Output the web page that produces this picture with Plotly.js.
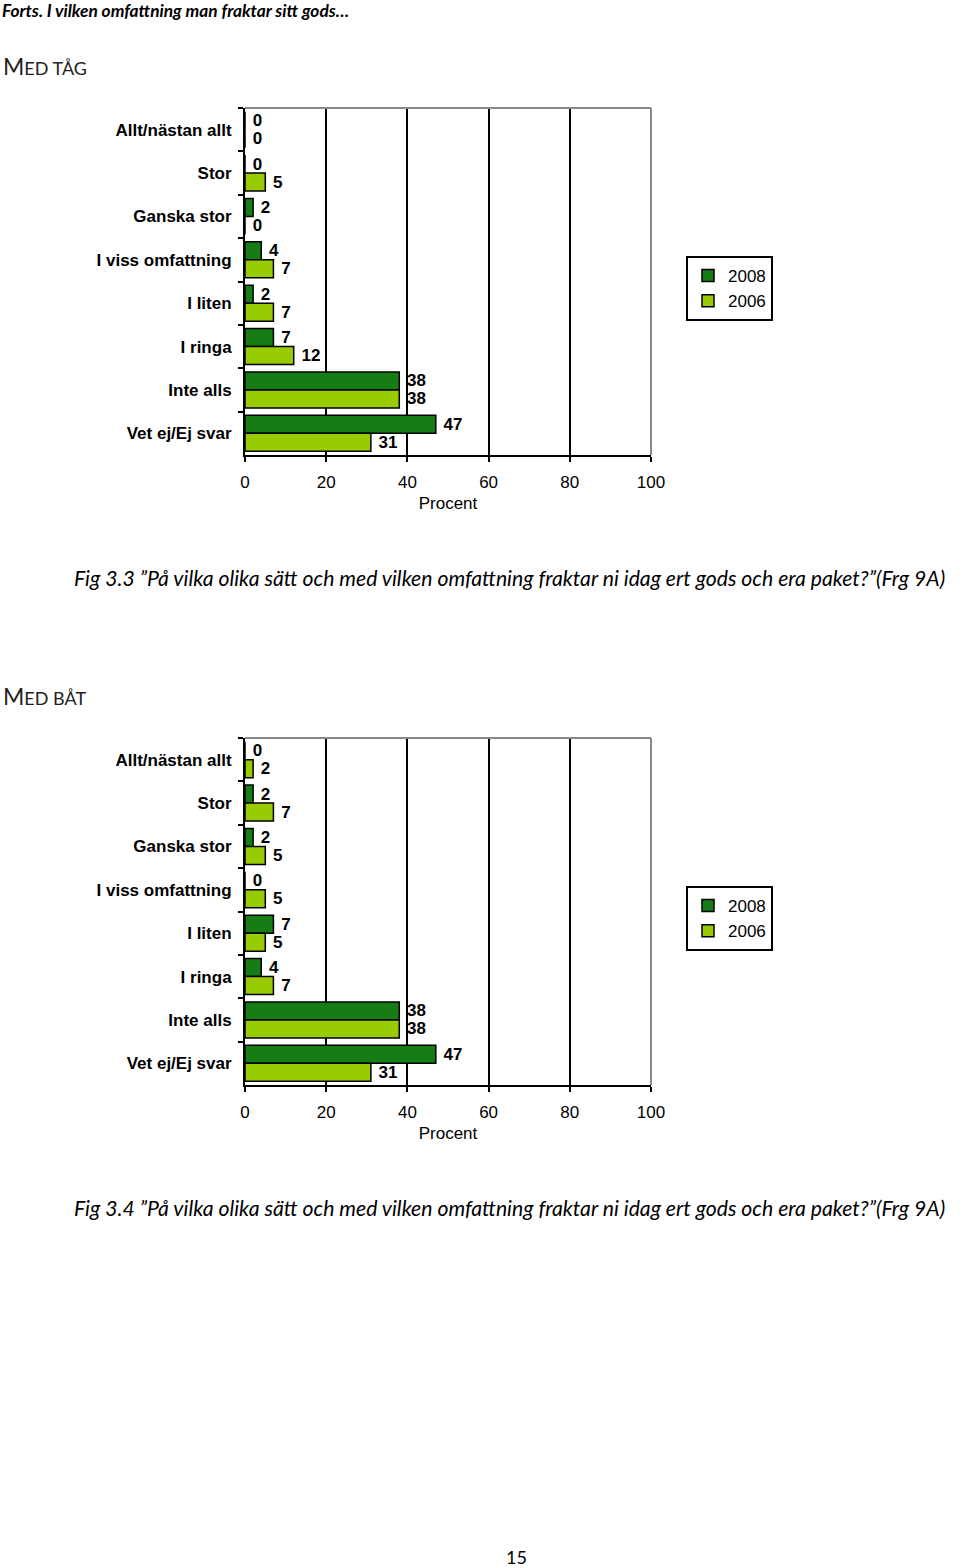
<!DOCTYPE html>
<html>
<head>
<meta charset="utf-8">
<script src="https://cdn.plot.ly/plotly-3.0.1.min.js"></script>
<style>
  body { margin: 0; background: #fff; }
  #chart { width: 960px; height: 1568px; }
</style>
</head>
<body>
<div id="chart"></div>
<script>
/* data */
const categories = ["Allt/nästan allt", "Stor", "Ganska stor", "I viss omfattning", "I liten", "I ringa", "Inte alls", "Vet ej/Ej svar"];
const years = ["2008", "2006"];
const tag2008 = [0, 0, 2, 4, 2, 7, 38, 47];
const tag2006 = [0, 5, 0, 7, 7, 12, 38, 31];
const bat2008 = [0, 2, 2, 0, 7, 4, 38, 47];
const bat2006 = [2, 7, 5, 5, 5, 7, 38, 31];
const xTicks = [0, 20, 40, 60, 80, 100];

const colors = ["#167d16", "#99cc00"];
const H = 1568;
const py = (px) => 1 - px / H;

const bar = (vals, i, xa, ya, leg) => ({
  type: "bar",
  orientation: "h",
  name: years[i],
  x: vals,
  y: categories,
  xaxis: xa,
  yaxis: ya,
  legend: leg,
  marker: { color: colors[i], line: { color: "#000", width: 1.5 } },
  text: vals.map((v) => "\u00a0" + v),
  textposition: "outside",
  constraintext: "none",
  cliponaxis: false,
  textfont: { family: "Liberation Sans, Arial", size: 17, weight: "bold", color: "#000" },
  hoverinfo: "skip",
});

const data = [
  bar(tag2008, 0, "x", "y", "legend"),
  bar(tag2006, 1, "x", "y", "legend"),
  bar(bat2008, 0, "x2", "y2", "legend2"),
  bar(bat2006, 1, "x2", "y2", "legend2"),
];

const xaxisBase = (anchor) => ({
  anchor: anchor,
  domain: [245 / 960, 651 / 960],
  range: [0, 100],
  tickvals: xTicks,
  ticks: "outside",
  ticklen: 5,
  tickwidth: 2,
  tickcolor: "#000",
  ticklabelstandoff: 6,
  showline: true,
  linecolor: "#000",
  linewidth: 2,
  showgrid: true,
  gridcolor: "#000",
  gridwidth: 2,
  zeroline: false,
  tickfont: { family: "Liberation Sans, Arial", size: 17, color: "#000" },
  title: { text: "Procent", standoff: 6, font: { family: "Liberation Sans, Arial", size: 17, color: "#000" } },
  fixedrange: true,
});

const yaxisBase = (anchor, dom) => ({
  anchor: anchor,
  domain: dom,
  type: "category",
  autorange: "reversed",
  tickson: "boundaries",
  ticks: "outside",
  ticklen: 5,
  tickwidth: 2,
  tickcolor: "#000",
  ticklabelstandoff: 8,
  showline: true,
  linecolor: "#000",
  linewidth: 2,
  showgrid: false,
  tickfont: { family: "Liberation Sans, Arial", size: 17, weight: "bold", color: "#000" },
  fixedrange: true,
});

const legendBase = (top) => ({
  x: 686 / 960,
  y: py(top),
  xanchor: "left",
  yanchor: "top",
  traceorder: "normal",
  bgcolor: "#fff",
  bordercolor: "#000",
  borderwidth: 2,
  font: { family: "Liberation Sans, Arial", size: 17, color: "#000" },
  itemwidth: 30,
  tracegroupgap: 0,
});

// gray frame on top and right of each plot area
const frame = (xa, ya) => [
  { type: "line", xref: xa + " domain", yref: ya + " domain", x0: 0, x1: 1, y0: 1, y1: 1, line: { color: "#888", width: 2 }, layer: "above" },
  { type: "line", xref: xa + " domain", yref: ya + " domain", x0: 1, x1: 1, y0: 0, y1: 1, line: { color: "#888", width: 2 }, layer: "above" },
];

const note = (text, x, y, size, extra) => Object.assign({
  text: text, xref: "paper", yref: "paper", x: x / 960, y: py(y),
  xanchor: "left", yanchor: "middle", showarrow: false,
  font: { family: "Lato, Open Sans", size: size, color: "#000" },
}, extra || {});

const layout = {
  width: 960,
  height: 1568,
  margin: { l: 0, r: 0, t: 0, b: 0 },
  paper_bgcolor: "#fff",
  plot_bgcolor: "#fff",
  barmode: "group",
  bargap: 0.17,
  bargroupgap: 0,
  showlegend: true,
  xaxis: xaxisBase("y"),
  yaxis: yaxisBase("x", [py(455), py(108)]),
  xaxis2: xaxisBase("y2"),
  yaxis2: yaxisBase("x2", [py(1085), py(738)]),
  legend: legendBase(256),
  legend2: legendBase(886),
  shapes: [...frame("x", "y"), ...frame("x2", "y2")],
  annotations: [
    note("Forts. I vilken omfattning man fraktar sitt gods…", 0, 11, 17.3, {
      font: { family: "Lato, Open Sans", size: 17.3, style: "italic", weight: "bold", color: "#000" } }),
    note("M<span style='font-size:18px'>ED TÅG</span>", 1, 66, 23, {
      font: { family: "Lato, Open Sans", size: 23, color: "#222" } }),
    note("Fig 3.3 ”På vilka olika sätt och med vilken omfattning fraktar ni idag ert gods och era paket?”(Frg 9A)", 72, 578, 21.2, {
      font: { family: "Lato, Open Sans", size: 21.2, style: "italic", color: "#000" } }),
    note("M<span style='font-size:18px'>ED BÅT</span>", 1, 696, 23, {
      font: { family: "Lato, Open Sans", size: 23, color: "#222" } }),
    note("Fig 3.4 ”På vilka olika sätt och med vilken omfattning fraktar ni idag ert gods och era paket?”(Frg 9A)", 72, 1208, 21.2, {
      font: { family: "Lato, Open Sans", size: 21.2, style: "italic", color: "#000" } }),
    note("15", 516, 1557, 18, { xanchor: "center" }),
  ],
};

Plotly.newPlot("chart", data, layout, { staticPlot: true, responsive: false });
</script>
</body>
</html>
